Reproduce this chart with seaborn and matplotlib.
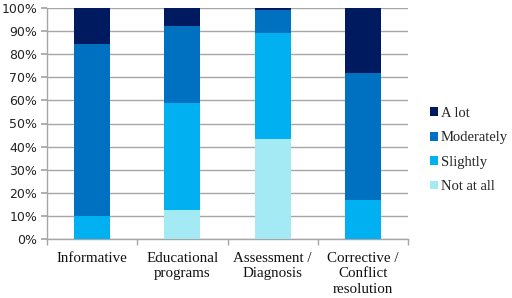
import numpy as np
import pandas as pd
import matplotlib
matplotlib.use("Agg")
import matplotlib.pyplot as plt
import seaborn as sns
from matplotlib.patches import Patch
from matplotlib.ticker import PercentFormatter, FixedLocator

categories = ["Informative", "Educational\nprograms", "Assessment /\nDiagnosis", "Corrective /\nConflict\nresolution"]
levels = ["Not at all", "Slightly", "Moderately", "A lot"]
not_at_all = [0.0, 12.6, 43.2, 0.0]
slightly = [10.0, 46.3, 46.1, 16.9]
moderately = [74.4, 33.3, 9.7, 54.8]
a_lot = [15.6, 7.8, 1.0, 28.3]
colors = {"Not at all": "#A3EAF5", "Slightly": "#00B0F0", "Moderately": "#0070C0", "A lot": "#001A60"}

sns.set_theme(style="white")
df = pd.DataFrame({"cat": categories, "Not at all": not_at_all, "Slightly": slightly,
                   "Moderately": moderately, "A lot": a_lot})
cum = df[levels].cumsum(axis=1)

fig = plt.figure(figsize=(5.12, 2.98), dpi=100)
ax = fig.add_axes([47/512, 1-239/298, (408-47)/512, (239-8)/298])

for lev in reversed(levels):
    sns.barplot(x=df["cat"], y=cum[lev], color=colors[lev], width=0.4, ax=ax,
                saturation=1, linewidth=0, zorder=3)

ax.set_ylim(0, 100)
ax.set_xlim(-0.5, 3.5)
ax.yaxis.set_major_locator(FixedLocator(np.arange(0, 101, 10)))
ax.yaxis.set_major_formatter(PercentFormatter(decimals=0))
ax.grid(axis="y", color="#A6A6A6", linewidth=1.0, zorder=0)
ax.set_axisbelow(True)
for s in ["top", "right"]:
    ax.spines[s].set_visible(False)
for s in ["left", "bottom"]:
    ax.spines[s].set_color("#A6A6A6")
    ax.spines[s].set_linewidth(1.0)
ax.set_xlabel("")
ax.set_ylabel("")
ax.tick_params(axis="y", left=True, length=4, color="#A6A6A6", labelsize=9, pad=3,
               labelcolor="#222222")
ax.set_xticks(range(4))
ax.set_xticklabels(categories, family="Liberation Serif", fontsize=10.8, linespacing=1.27)
ax.tick_params(axis="x", which="major", length=0, pad=9, labelcolor="#111111")
ax.set_xticks(np.arange(-0.5, 4, 1), minor=True)
ax.tick_params(axis="x", which="minor", bottom=True, length=4, color="#A6A6A6")
for lab in ax.get_yticklabels():
    lab.set_family("DejaVu Sans")

handles = [Patch(facecolor=colors[l], edgecolor="none") for l in reversed(levels)]
leg = ax.legend(handles, list(reversed(levels)), loc="center left", bbox_to_anchor=(1.045, 0.385),
                frameon=False, prop={"family": "Liberation Serif", "size": 10.5},
                handlelength=0.55, handleheight=0.55, handletextpad=0.2, labelspacing=0.78,
                borderaxespad=0, borderpad=0.4)

fig.savefig("out.png", dpi=100)
